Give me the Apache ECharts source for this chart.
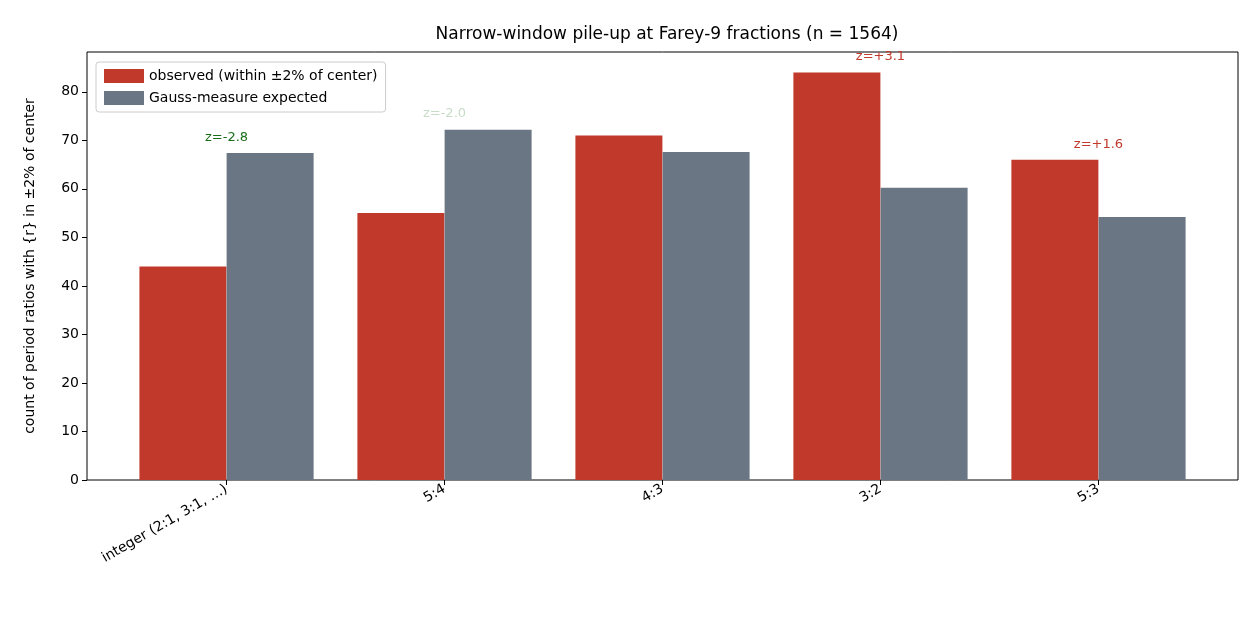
<!DOCTYPE html>
<html><head><meta charset="utf-8">
<script src="https://cdn.jsdelivr.net/npm/echarts@6/dist/echarts.min.js"></script>
<style>body{margin:0;background:#fff}#main{width:1260px;height:630px}</style>
</head><body><div id="main"></div>
<script>
const categories = ['integer (2:1, 3:1, …)', '5:4', '4:3', '3:2', '5:3'];
const observed = [44, 55, 71, 84, 66];
const expected = [67.4, 72.2, 67.6, 60.2, 54.2];
const zLabels = ['z=-2.8', 'z=-2.0', '', 'z=+3.1', 'z=+1.6'];
const zY = [70.5, 75.5, null, 87.2, 69.1];
const zColors = ['#1a6e1a', '#c8dcc8', '#000', '#c0392b', '#c0392b'];

const chart = echarts.init(document.getElementById('main'));
const font = 'DejaVu Sans';
chart.setOption({
  animation: false,
  textStyle: { fontFamily: font },
  title: { text: 'Narrow-window pile-up at Farey-9 fractions (n = 1564)', left: 662, top: 21, textAlign: 'center',
    textStyle: { fontSize: 17, fontWeight: 'normal', color: '#000', fontFamily: font } },
  legend: { left: 96, top: 62, orient: 'vertical', icon: 'rect', itemWidth: 40, itemHeight: 14, itemGap: 8,
    backgroundColor: '#fff', borderColor: '#ccc', borderWidth: 1, borderRadius: 3, padding: [7, 8, 7, 8],
    textStyle: { fontSize: 14, color: '#000' },
    data: ['observed (within ±2% of center)', 'Gauss-measure expected'] },
  grid: { left: 87, right: 22, top: 52, bottom: 150, show: true, borderColor: '#000', borderWidth: 1 },
  xAxis: { type: 'value', min: -0.64, max: 4.64,
    axisLine: { show: false, onZero: false }, splitLine: { show: false },
    axisTick: { show: true, customValues: [0, 1, 2, 3, 4], length: 5, lineStyle: { color: '#000' } },
    axisLabel: { customValues: [0, 1, 2, 3, 4], rotate: 30, fontSize: 14, color: '#000', margin: 8,
      formatter: v => categories[Math.round(v)] } },
  yAxis: { type: 'value', min: 0, max: 88.2, interval: 10,
    name: 'count of period ratios with {r} in ±2% of center', nameLocation: 'middle', nameGap: 50,
    nameTextStyle: { fontSize: 14, color: '#000' },
    axisLine: { show: false, onZero: false }, splitLine: { show: false },
    axisTick: { show: true, length: 5, lineStyle: { color: '#000' } },
    axisLabel: { fontSize: 14, color: '#000', showMaxLabel: false } },
  series: [
    { name: 'observed (within ±2% of center)', type: 'bar', barWidth: 87, barGap: '-100%',
      itemStyle: { color: '#c0392b' },
      data: observed.map((v, i) => [i - 0.2, v]) },
    { name: 'Gauss-measure expected', type: 'bar', barWidth: 87, barGap: '-100%',
      itemStyle: { color: '#6b7684' },
      data: expected.map((v, i) => [i + 0.2, v]) },
    { type: 'scatter', symbolSize: 0, silent: true, itemStyle: { opacity: 1 },
      data: zY.map((v, i) => v == null ? null : { value: [i, v],
        label: { show: true, position: 'inside', formatter: zLabels[i], fontSize: 13, color: zColors[i] } }).filter(d => d) }
  ]
});
</script></body></html>
